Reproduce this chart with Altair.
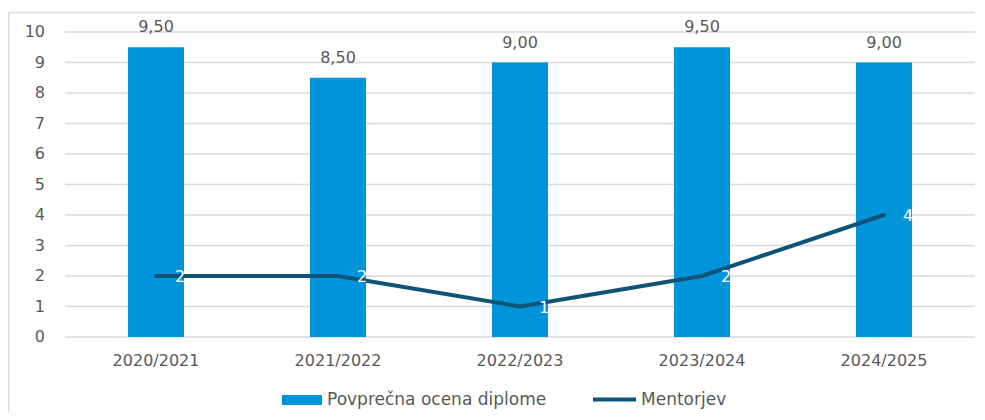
import altair as alt
import pandas as pd

years = ["2020/2021", "2021/2022", "2022/2023", "2023/2024", "2024/2025"]
ocena = [9.5, 8.5, 9.0, 9.5, 9.0]
mentorjev = [2, 2, 1, 2, 4]
y_ticks = [0, 1, 2, 3, 4, 5, 6, 7, 8, 9, 10]

BAR_NAME = "Povprečna ocena diplome"
LINE_NAME = "Mentorjev"
BAR_COLOR = "#0095DA"
LINE_COLOR = "#0E5476"
TEXT_COLOR = "#595959"
GRID_COLOR = "#D9D9D9"
FONT = "DejaVu Sans"
FS = 16

df = pd.DataFrame({
    "leto": years,
    "ocena": ocena,
    "ocena_lbl": [f"{v:.2f}".replace(".", ",") for v in ocena],
    "mentorjev": mentorjev,
    "bar_s": BAR_NAME,
    "line_s": LINE_NAME,
})
ticks_df = pd.DataFrame({"t": y_ticks, "lbl": [str(t) for t in y_ticks]})

xaxis = alt.Axis(labelAngle=0, ticks=False, domain=False, grid=False, labelPadding=15,
                 labelFontSize=FS, labelColor=TEXT_COLOR, labelFont=FONT, title=None)
xscale = alt.Scale(paddingInner=0.69, paddingOuter=0.345)
yscale = alt.Scale(domain=[0, 10], nice=False, zero=True)


def X():
    return alt.X("leto:N", sort=years, scale=xscale, axis=xaxis)


def Y(field):
    return alt.Y(field, scale=yscale, axis=None)


base = alt.Chart(df)
first = base.transform_filter(alt.datum.leto == years[0])
tk = alt.Chart(ticks_df)

border_top = first.mark_rule(stroke=GRID_COLOR, strokeWidth=1.5, clip=False).encode(
    x=alt.value(-56.5), x2=alt.value(912), y=alt.value(-19.5)
)
border_left = first.mark_rule(stroke=GRID_COLOR, strokeWidth=1.5, clip=False).encode(
    x=alt.value(-56.5), y=alt.value(-19.5), y2=alt.value(400)
)

grid = tk.mark_rule(stroke=GRID_COLOR, strokeWidth=1.5).encode(
    y=Y("t:Q"), x=alt.value(0), x2=alt.value("width")
)
ylabels = tk.mark_text(align="right", baseline="middle", fontSize=FS, color=TEXT_COLOR,
                       font=FONT).encode(
    y=Y("t:Q"), x=alt.value(-20), text="lbl:N"
)

bars = base.mark_bar(size=56).encode(
    x=X(),
    y=Y("ocena:Q"),
    fill=alt.Fill("bar_s:N", scale=alt.Scale(domain=[BAR_NAME], range=[BAR_COLOR]),
                  legend=alt.Legend(title=None, orient="none", legendX=217, legendY=348,
                                    symbolType="M-1,-0.25H1V0.25H-1Z", symbolSize=1600,
                                    symbolStrokeWidth=0, labelFontSize=17, labelColor=TEXT_COLOR,
                                    labelFont=FONT, labelOffset=5, labelLimit=0)),
)

bar_text = base.mark_text(dy=-12, baseline="bottom", fontSize=FS, color=TEXT_COLOR, font=FONT).encode(
    x=X(),
    y=Y("ocena:Q"),
    text="ocena_lbl:N",
)

line = base.mark_line(strokeWidth=4, strokeCap="round", strokeJoin="round").encode(
    x=X(),
    y=Y("mentorjev:Q"),
    stroke=alt.Stroke("line_s:N", scale=alt.Scale(domain=[LINE_NAME], range=[LINE_COLOR]),
                      legend=alt.Legend(title=None, orient="none", legendX=526, legendY=344,
                                        symbolType="stroke", symbolSize=1849, symbolStrokeWidth=4,
                                        labelFontSize=17, labelColor=TEXT_COLOR, labelFont=FONT,
                                        labelOffset=3, labelLimit=0)),
)

line_text = base.mark_text(dx=24, dy=1, align="center", baseline="middle", fontSize=FS,
                           color="white", font=FONT).encode(
    x=X(),
    y=Y("mentorjev:Q"),
    text="mentorjev:Q",
)

chart = alt.layer(border_top, border_left, grid, ylabels, bars, bar_text, line, line_text).resolve_scale(
    fill="independent", stroke="independent"
).properties(
    width=910, height=305,
    autosize=alt.AutoSizeParams(type="none"),
    padding={"left": 57, "top": 24, "right": 0, "bottom": 75},
).configure_view(stroke=None)

chart.save("out.html", embed_options={"renderer": "svg", "actions": False})
